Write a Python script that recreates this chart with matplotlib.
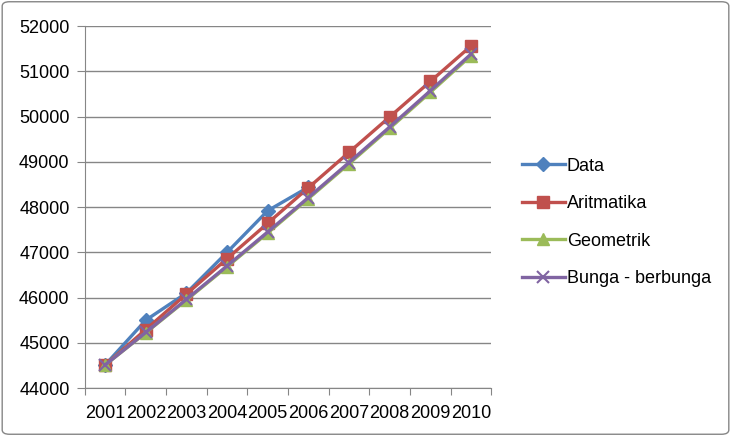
import matplotlib
matplotlib.use('Agg')
import matplotlib.pyplot as plt
from matplotlib.patches import FancyBboxPatch

plt.rcParams['font.family'] = ['Liberation Sans', 'DejaVu Sans']

years = ['2001', '2002', '2003', '2004', '2005', '2006', '2007', '2008', '2009', '2010']
data = [44510, 45500, 46100, 47000, 47920, 48440]
aritmatika = [44510, 45293, 46077, 46860, 47643, 48427, 49210, 49993, 50777, 51560]
geometrik = [44510, 45222, 45946, 46681, 47428, 48187, 48958, 49741, 50537, 51346]
bunga = [44510, 45230, 45960, 46700, 47450, 48210, 48985, 49770, 50570, 51380]

fig = plt.figure(figsize=(7.31, 4.36), dpi=100)
ax = fig.add_axes([0.116, 0.110, 0.556, 0.830])

x = list(range(len(years)))
ax.plot(x[:len(data)], data, '-D', color='#4F81BD', lw=2.4, ms=7, label='Data')
ax.plot(x, aritmatika, '-s', color='#C0504D', lw=2.4, ms=8.5, label='Aritmatika')
ax.plot(x, geometrik, '-^', color='#9BBB59', lw=2.4, ms=9, label='Geometrik')
ax.plot(x, bunga, '-x', color='#8064A2', lw=2.4, ms=8, mew=1.5, label='Bunga - berbunga')

ax.set_xlim(-0.5, 9.5)
ax.set_ylim(44000, 52000)
ax.set_yticks(range(44000, 52001, 1000))
ax.set_xticks([i - 0.5 for i in range(11)])
ax.set_xticklabels([])
ax.set_xticks(x, minor=True)
ax.set_xticklabels(years, minor=True)
ax.tick_params(axis='x', which='minor', length=0, pad=12, labelsize=13)
ax.tick_params(axis='x', which='major', length=5, color='#868686')
ax.tick_params(axis='y', length=6, color='#868686', labelsize=13, pad=5)

ax.grid(axis='y', color='#868686', lw=1)
ax.set_axisbelow(True)
for s in ['top', 'right']:
    ax.spines[s].set_visible(False)
for s in ['left', 'bottom']:
    ax.spines[s].set_color('#868686')

ax.legend(loc='center left', bbox_to_anchor=(1.035, 0.458), frameon=False,
          fontsize=13, handlelength=2.4, labelspacing=1.13, handletextpad=0.1, numpoints=1)

border = FancyBboxPatch((0.003, 0.004), 0.994, 0.992, boxstyle='round,pad=0,rounding_size=0.01',
                        transform=fig.transFigure, fill=False, edgecolor='#868686', lw=1)
fig.patches.append(border)

fig.savefig('out.png', dpi=100)
